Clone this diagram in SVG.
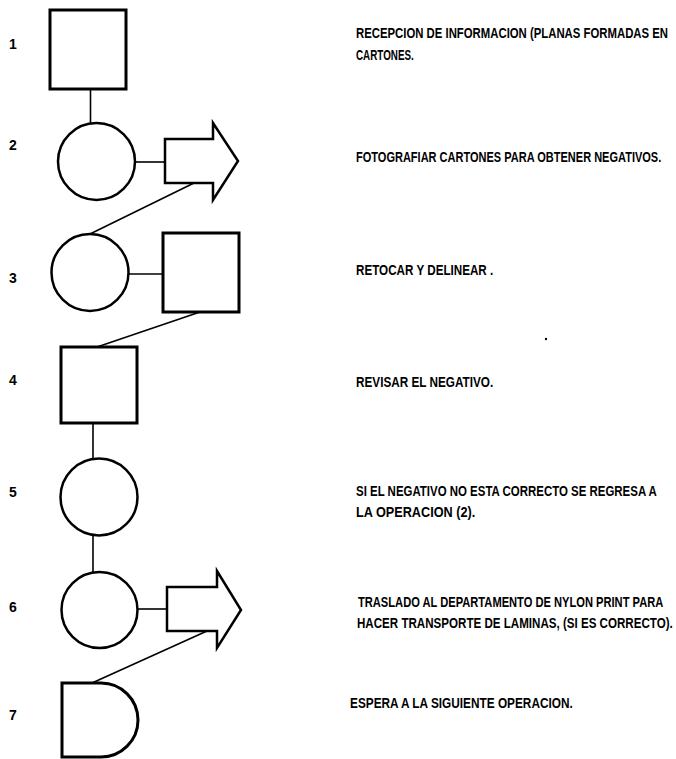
<svg xmlns="http://www.w3.org/2000/svg" width="676" height="759" viewBox="0 0 676 759">
<style>
.n{fill:#fff;stroke:#000;stroke-width:3;stroke-linejoin:miter}
.c{fill:#fff;stroke:#000;stroke-width:2.5}
.l{fill:none;stroke:#000;stroke-width:1.6}
text{font-family:"Liberation Sans","DejaVu Sans",sans-serif;font-weight:bold;font-size:15px;fill:#000}
.num{text-anchor:middle;font-size:14px}
</style>
<rect width="676" height="759" fill="#fff"/>
<g id="connectors">
<line class="l" x1="90.5" y1="89" x2="90.5" y2="124"/>
<line class="l" x1="135" y1="162" x2="165" y2="162"/>
<line class="l" x1="194" y1="183" x2="90" y2="234"/>
<line class="l" x1="128" y1="274" x2="163" y2="274"/>
<line class="l" x1="200" y1="312" x2="97" y2="347"/>
<line class="l" x1="93" y1="423" x2="93" y2="459"/>
<line class="l" x1="93" y1="535" x2="93" y2="572"/>
<line class="l" x1="137" y1="609" x2="167" y2="609"/>
<line class="l" x1="207" y1="631" x2="92" y2="683"/>
</g>
<g id="node1"><rect class="n" x="50" y="10" width="76" height="79"/></g>
<g id="node2"><circle class="c" cx="96.5" cy="161.5" r="38.5"/></g>
<g id="node2b"><polygon class="c" points="165,139 213,139 213,123 238,161 213,200 213,183 165,183"/></g>
<g id="node3"><circle class="c" cx="90" cy="272.5" r="38.5"/></g>
<g id="node3b"><rect class="n" x="163" y="233" width="76" height="79"/></g>
<g id="node4"><rect class="n" x="61" y="347" width="76" height="76"/></g>
<g id="node5"><circle class="c" cx="99" cy="497" r="38.5"/></g>
<g id="node6"><circle class="c" cx="99.5" cy="610" r="38"/></g>
<g id="node6b"><polygon class="c" points="167,587 217,587 217,571 241,610 217,648 217,631 167,631"/></g>
<g id="node7"><path class="n" d="M62,683 L101,683 A37,37 0 0 1 101,757 L62,757 Z"/></g>
<g id="numbers">
<text class="num" x="13" y="49">1</text>
<text class="num" x="13" y="150">2</text>
<text class="num" x="13" y="283">3</text>
<text class="num" x="13" y="385">4</text>
<text class="num" x="13" y="497">5</text>
<text class="num" x="13" y="612">6</text>
<text class="num" x="13" y="720">7</text>
</g>
<g id="labels">
<text transform="translate(356,38) scale(0.75,1)" x="0" y="0" textLength="416" lengthAdjust="spacingAndGlyphs">RECEPCION DE INFORMACION  (PLANAS FORMADAS EN</text>
<text transform="translate(356,60) scale(0.75,1)" x="0" y="0" textLength="77" lengthAdjust="spacingAndGlyphs">CARTONES.</text>
<text transform="translate(356,162) scale(0.75,1)" x="0" y="0" textLength="407" lengthAdjust="spacingAndGlyphs">FOTOGRAFIAR CARTONES PARA OBTENER NEGATIVOS.</text>
<text transform="translate(356,275) scale(0.75,1)" x="0" y="0" textLength="183" lengthAdjust="spacingAndGlyphs">RETOCAR Y DELINEAR .</text>
<text transform="translate(356,387) scale(0.75,1)" x="0" y="0" textLength="183" lengthAdjust="spacingAndGlyphs">REVISAR EL NEGATIVO.</text>
<text transform="translate(356,496) scale(0.75,1)" x="0" y="0" textLength="401" lengthAdjust="spacingAndGlyphs">SI EL NEGATIVO NO ESTA CORRECTO SE REGRESA A</text>
<text transform="translate(356,517) scale(0.75,1)" x="0" y="0" textLength="159" lengthAdjust="spacingAndGlyphs">LA OPERACION (2).</text>
<text transform="translate(358,607) scale(0.75,1)" x="0" y="0" textLength="407" lengthAdjust="spacingAndGlyphs">TRASLADO AL DEPARTAMENTO DE NYLON PRINT PARA</text>
<text transform="translate(357,628) scale(0.75,1)" x="0" y="0" textLength="421" lengthAdjust="spacingAndGlyphs">HACER TRANSPORTE DE LAMINAS, (SI ES CORRECTO).</text>
<text transform="translate(350,708) scale(0.75,1)" x="0" y="0" textLength="297" lengthAdjust="spacingAndGlyphs">ESPERA A LA SIGUIENTE OPERACION.</text>
</g>
<circle cx="546" cy="339" r="1.2" fill="#000"/>
</svg>
